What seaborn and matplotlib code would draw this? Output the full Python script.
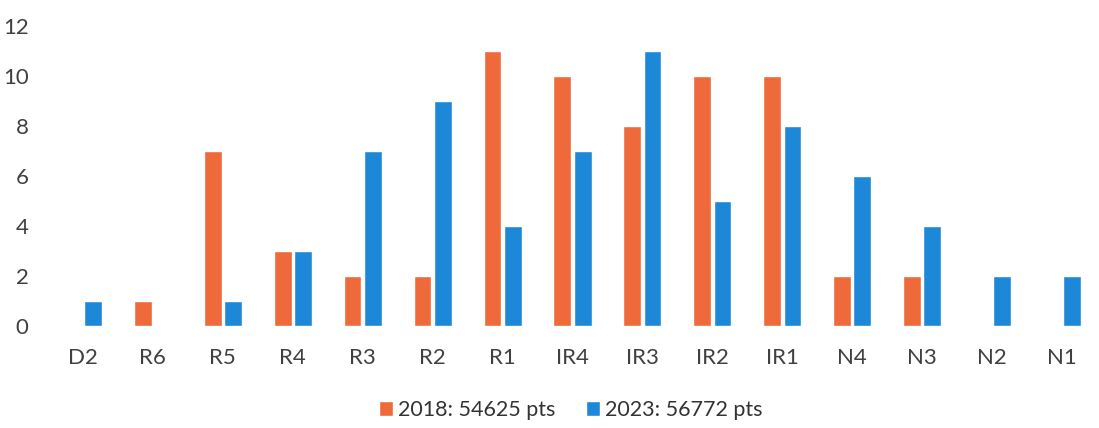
import seaborn as sns
import matplotlib.pyplot as plt
import pandas as pd

sns.set_theme(style='white')
plt.rcParams['font.family'] = ['Lato', 'DejaVu Sans']

levels = ['D2', 'R6', 'R5', 'R4', 'R3', 'R2', 'R1', 'IR4', 'IR3', 'IR2', 'IR1',
          'N4', 'N3', 'N2', 'N1']
vals_2018 = [0, 1, 7, 3, 2, 2, 11, 10, 8, 10, 10, 2, 2, 0, 0]
vals_2023 = [1, 0, 1, 3, 7, 9, 4, 7, 11, 5, 8, 6, 4, 2, 2]
series = ['2018: 54625 pts', '2023: 56772 pts']
colors = ['#EE6A3A', '#1E88D8']

df = pd.DataFrame({
    'level': levels * 2,
    'value': vals_2018 + vals_2023,
    'year': [series[0]] * len(levels) + [series[1]] * len(levels),
})

fig = plt.figure(figsize=(10.99, 4.28), dpi=100)
ax = fig.add_axes([48 / 1099, 1 - 326 / 428, 1049 / 1099, 300 / 428])

sns.barplot(data=df, x='level', y='value', hue='year', hue_order=series,
            palette=colors, saturation=1, width=0.58, gap=0.12, ax=ax, legend=True)

ax.set_ylim(0, 12)
ax.set_xlim(-0.5, 14.5)
ax.set_yticks(range(0, 13, 2))
ax.set_xlabel('')
ax.set_ylabel('')
for s in ax.spines.values():
    s.set_visible(False)
ax.tick_params(axis='y', length=0, pad=14, labelsize=16, labelcolor='#404040')
ax.tick_params(axis='x', length=0, pad=16, labelsize=16, labelcolor='#404040')

handles, labels = ax.get_legend_handles_labels()
ax.get_legend().remove()
fig.legend(handles, labels, loc='center', bbox_to_anchor=(571 / 1099, 1 - 410 / 428),
           ncol=2, frameon=False, fontsize=15.5, handlelength=0.65, handleheight=0.65,
           handletextpad=0.25, columnspacing=1.4, labelcolor='#333333')

fig.savefig('out.png', dpi=100)
